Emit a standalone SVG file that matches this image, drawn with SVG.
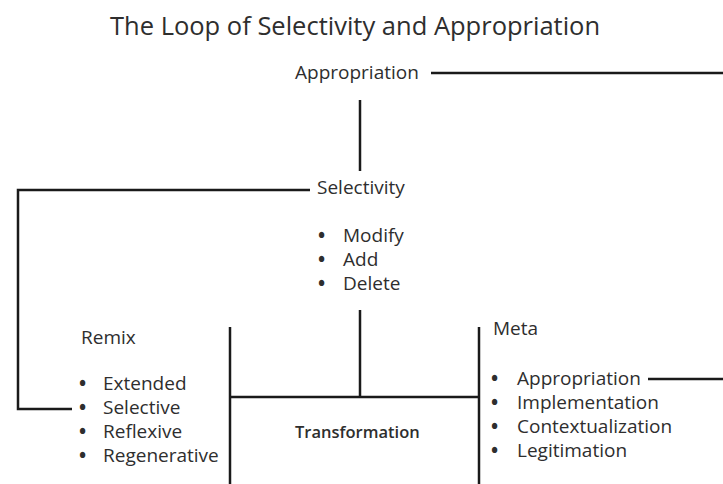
<svg xmlns="http://www.w3.org/2000/svg" width="723" height="484" viewBox="0 0 723 484">
<style>
text{font-family:"Open Sans","Lato","DejaVu Sans",sans-serif;fill:#2e2e2e;font-size:19px}
.t{font-size:25.5px}
.b{font-weight:600;font-size:16.5px}
.d{font-weight:700}
.c{stroke:#1a1a1a;stroke-width:2.5;fill:none}
</style>
<rect width="723" height="484" fill="#fff"/>
<text class="t" x="110" y="35">The Loop of Selectivity and Appropriation</text>
<g id="appropriation"><text x="295" y="79">Appropriation</text></g>
<g id="selectivity">
<text x="317" y="194">Selectivity</text>
<text x="318" y="242"><tspan class="d">•</tspan><tspan x="343">Modify</tspan></text>
<text x="318" y="266"><tspan class="d">•</tspan><tspan x="343">Add</tspan></text>
<text x="318" y="290"><tspan class="d">•</tspan><tspan x="343">Delete</tspan></text>
</g>
<g id="remix">
<text x="81" y="344">Remix</text>
<text x="79" y="390"><tspan class="d">•</tspan><tspan x="103">Extended</tspan></text>
<text x="79" y="414"><tspan class="d">•</tspan><tspan x="103">Selective</tspan></text>
<text x="79" y="438"><tspan class="d">•</tspan><tspan x="103">Reflexive</tspan></text>
<text x="79" y="462"><tspan class="d">•</tspan><tspan x="103">Regenerative</tspan></text>
</g>
<g id="transformation"><text class="b" x="295" y="438">Transformation</text></g>
<g id="meta">
<text x="493" y="335">Meta</text>
<text x="491" y="385"><tspan class="d">•</tspan><tspan x="517">Appropriation</tspan></text>
<text x="491" y="409"><tspan class="d">•</tspan><tspan x="517">Implementation</tspan></text>
<text x="491" y="433"><tspan class="d">•</tspan><tspan x="517">Contextualization</tspan></text>
<text x="491" y="457"><tspan class="d">•</tspan><tspan x="517">Legitimation</tspan></text>
</g>
<g id="connectors" class="c">
<path d="M431 73H723"/>
<path d="M360 100V171"/>
<path d="M310 190H18V409H72"/>
<path d="M360 310V397"/>
<path d="M230 327V484"/>
<path d="M479 327V484"/>
<path d="M230 397H479"/>
<path d="M648 379H723"/>
</g>
</svg>
